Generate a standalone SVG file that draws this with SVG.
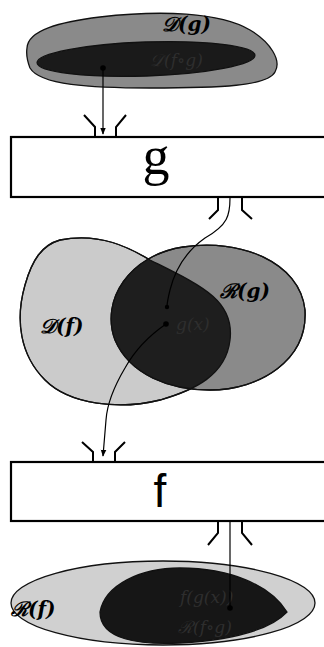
<svg xmlns="http://www.w3.org/2000/svg" width="324" height="647" viewBox="0 0 324 647">
<style>
.blob{stroke:#111;stroke-width:1.3}
.lbl{font-family:"DejaVu Serif","Liberation Serif",serif;font-style:italic;font-weight:bold;font-size:20px;fill:#000}
.hid{font-family:"DejaVu Serif","Liberation Serif",serif;font-style:italic;font-size:17px;fill:#2e2e2e}
.box{fill:#fff;stroke:#000;stroke-width:2.2}
.port{fill:none;stroke:#000;stroke-width:2}
.con{fill:none;stroke:#000;stroke-width:1.2}
</style>
<defs>
<marker id="ah" viewBox="0 0 10 10" refX="9" refY="5" markerWidth="7" markerHeight="7" orient="auto" markerUnits="userSpaceOnUse">
<path d="M0,1 L10,5 L0,9 Z" fill="#000"/>
</marker>
<path id="Df" d="M60,240 C100,232 130,248 150,260 C200,285 235,300 230,340 C226,375 195,390 160,400 C120,410 70,405 45,380 C20,355 15,320 25,285 C32,260 42,245 60,240 Z"/>
<path id="Rg" d="M183,247 C240,238 300,262 305,310 C308,360 260,390 210,390 C170,390 130,375 115,340 C100,300 130,255 183,247 Z"/>
<clipPath id="clipDf"><use href="#Df"/></clipPath>
</defs>

<g id="set-Dg">
<path class="blob" fill="#8a8a8a" d="M27,48 C28,30 60,22 100,17 C160,10 220,12 250,30 C270,42 282,60 275,72 C268,86 220,88 150,88 C90,88 40,85 30,68 C27,60 26,54 27,48 Z"/>
<ellipse class="blob" fill="#1a1a1a" cx="146" cy="59" rx="109" ry="17" transform="rotate(-2 146 59)"/>
<text class="lbl" x="162" y="31">𝒟(g)</text>
<text class="hid" x="150" y="66">𝒟(f∘g)</text>
<circle cx="103" cy="68" r="2.8" fill="#000"/>
</g>

<g id="box-g">
<rect class="box" x="11" y="137" width="320" height="60"/>
<text x="156" y="174" text-anchor="middle" font-family="'Liberation Serif', serif" font-size="54">g</text>
<path class="port" d="M84,115 L95,127 L95,137 M126,115 L116,127 L116,137"/>
<path class="port" d="M218,198 L218,210 L209,219 M242,198 L242,210 L252,219"/>
</g>

<g id="sets-middle">
<use href="#Df" class="blob" fill="#cbcbcb"/>
<use href="#Rg" class="blob" fill="#8a8a8a"/>
<g clip-path="url(#clipDf)"><use href="#Rg" fill="#1e1e1e"/></g>
<use href="#Df" fill="none" stroke="#111" stroke-width="1.3"/>
<use href="#Rg" fill="none" stroke="#111" stroke-width="1.3"/>
<text class="lbl" x="40" y="333">𝒟(f)</text>
<text class="lbl" x="220" y="298">ℛ(g)</text>
<text class="hid" x="176" y="330">g(x)</text>
<circle cx="167" cy="307" r="2.2" fill="#000"/>
<circle cx="166" cy="324" r="2.8" fill="#000"/>
</g>

<g id="box-f">
<rect class="box" x="11" y="462" width="320" height="59"/>
<text x="160" y="507" text-anchor="middle" font-family="'Liberation Sans', sans-serif" font-size="46">f</text>
<path class="port" d="M82,442 L93,452 L93,462 M125,442 L115,452 L115,462"/>
<path class="port" d="M218,521 L218,533 L208,545 M242,521 L242,533 L252,545"/>
</g>

<g id="set-Rf">
<ellipse class="blob" fill="#d0d0d0" cx="163" cy="603" rx="152" ry="42"/>
<path class="blob" fill="#161616" d="M100,612 C105,585 140,568 180,568 C230,568 270,585 287,612 C270,630 230,640 180,643 C140,645 100,640 100,612 Z"/>
<text class="lbl" x="11" y="616">ℛ(f)</text>
<text class="hid" x="180" y="603">f(g(x))</text>
<text class="hid" x="178" y="633">ℛ(f∘g)</text>
<circle cx="230" cy="608" r="2.8" fill="#000"/>
</g>

<g id="connectors">
<path class="con" d="M103,68 L103,134" marker-end="url(#ah)"/>
<path class="con" d="M230,198 C230,215 228,225 205,238 C185,252 175,270 170,290 C168,298 167,303 167,307"/>
<path class="con" d="M166,324 C150,335 135,350 125,368 C112,390 107,405 106,420 L103,456" marker-end="url(#ah)"/>
<path class="con" d="M230,521 L230,608"/>
</g>
</svg>
